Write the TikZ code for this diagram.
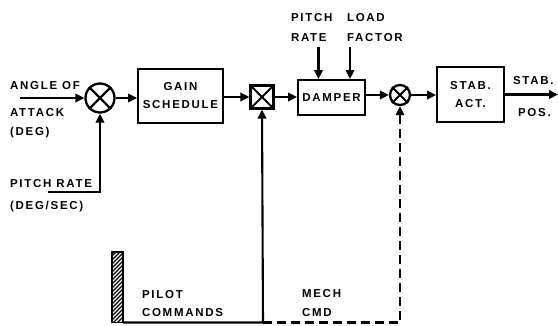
\documentclass[tikz,border=0pt]{standalone}
\usepackage{fontspec}
\setmainfont{Liberation Sans}[LetterSpace=15]
\usetikzlibrary{arrows.meta,patterns}
\begin{document}
\begin{tikzpicture}[x=1pt,y=-1pt,
  line width=2.1pt,
  every node/.style={font=\fontsize{11.5}{13}\selectfont\bfseries},
  arr/.style={-{Triangle[length=9pt,width=8.5pt]}},
  blk/.style={draw,line width=1.9pt,minimum width=#1,inner sep=0pt,align=center},
  sumj/.style={draw,circle,line width=2.3pt,inner sep=0pt,minimum size=#1},
  lbl/.style={inner sep=0pt,anchor=west}]
\useasboundingbox (0,0) rectangle (558,325);
% blocks
\node[sumj=29pt] (s1) at (100,98) {};
\draw[line width=2.3pt] (s1.north east) -- (s1.south west) (s1.north west) -- (s1.south east);
\node[blk=85pt,minimum height=54pt] (gain) at (180.5,96) {GAIN\\[5pt]SCHEDULE};
\node[draw,line width=2.2pt,minimum size=23pt,inner sep=0pt] (sq) at (262,97) {};
\draw[line width=2pt] (sq.north east) -- (sq.south west) (sq.north west) -- (sq.south east);
\node[blk=67pt,minimum height=35pt] (damp) at (331.5,97.5) {DAMPER};
\node[sumj=20pt] (s2) at (400,95) {};
\draw[line width=2pt] (s2.north east) -- (s2.south west) (s2.north west) -- (s2.south east);
\node[blk=67pt,minimum height=55pt] (stab) at (470.5,94.5) {STAB.\\[5pt]ACT.};
% coordinates
\coordinate (aoa) at (20,98);
\coordinate (prc) at (48,192);
\coordinate (prt) at (318.5,47);
\coordinate (lft) at (350,47);
\coordinate (out) at (558,94.5);
\coordinate (hb) at (123,322.5);
\coordinate (pc) at (263,322.5);
\coordinate (mc) at (400,322.5);
% connectors
\draw[arr] (aoa) -- (s1);
\draw[arr] (prc) -| (s1.south);
\draw[arr] (s1) -- (gain.west |- s1);
\draw[arr] (gain.east |- sq) -- (sq);
\draw[arr] (sq) -- (damp.west |- sq);
\draw[arr] (prt) -- (prt |- damp.north);
\draw[arr] (lft) -- (lft |- damp.north);
\draw[arr] (damp.east |- s2) -- (s2);
\draw[arr] (s2) -- (stab.west |- s2);
\draw[arr] (stab.east |- out) -- (out);
\draw[arr] (hb) -- (pc) -- (sq.south);
\draw[arr,dash pattern=on 9pt off 5pt] (pc) -- (mc) -- (s2.south);
% hatched bar
\begin{scope}
\clip (112,252) rectangle (123,322.5);
\foreach \k in {0,...,22} {\draw[line width=1.2pt] (110,250+4*\k) -- (126,250+4*\k-16);}
\end{scope}
\draw[line width=1.6pt] (112,252) rectangle (123,322.5);
% labels
\node[lbl] (l1) at (9,86) {ANGLE OF};
\node[lbl] (l2) at (9,112.5) {ATTACK};
\node[lbl] (l3) at (9,132.5) {(DEG)};
\node[lbl] (l4) at (9,184) {PITCH RATE};
\node[lbl] (l5) at (9,207) {(DEG/SEC)};
\node[lbl] (l6) at (290,17.5) {PITCH};
\node[lbl] (l7) at (290,37.5) {RATE};
\node[lbl] (l8) at (346,17.5) {LOAD};
\node[lbl] (l9) at (346,37.5) {FACTOR};
\node[lbl] (l10) at (512,81) {STAB.};
\node[lbl] (l11) at (517,112.5) {POS.};
\node[lbl] (l12) at (141,295) {PILOT};
\node[lbl] (l13) at (141,313) {COMMANDS};
\node[lbl] (l14) at (301,294) {MECH};
\node[lbl] (l15) at (301,312.5) {CMD};
\end{tikzpicture}
\end{document}
